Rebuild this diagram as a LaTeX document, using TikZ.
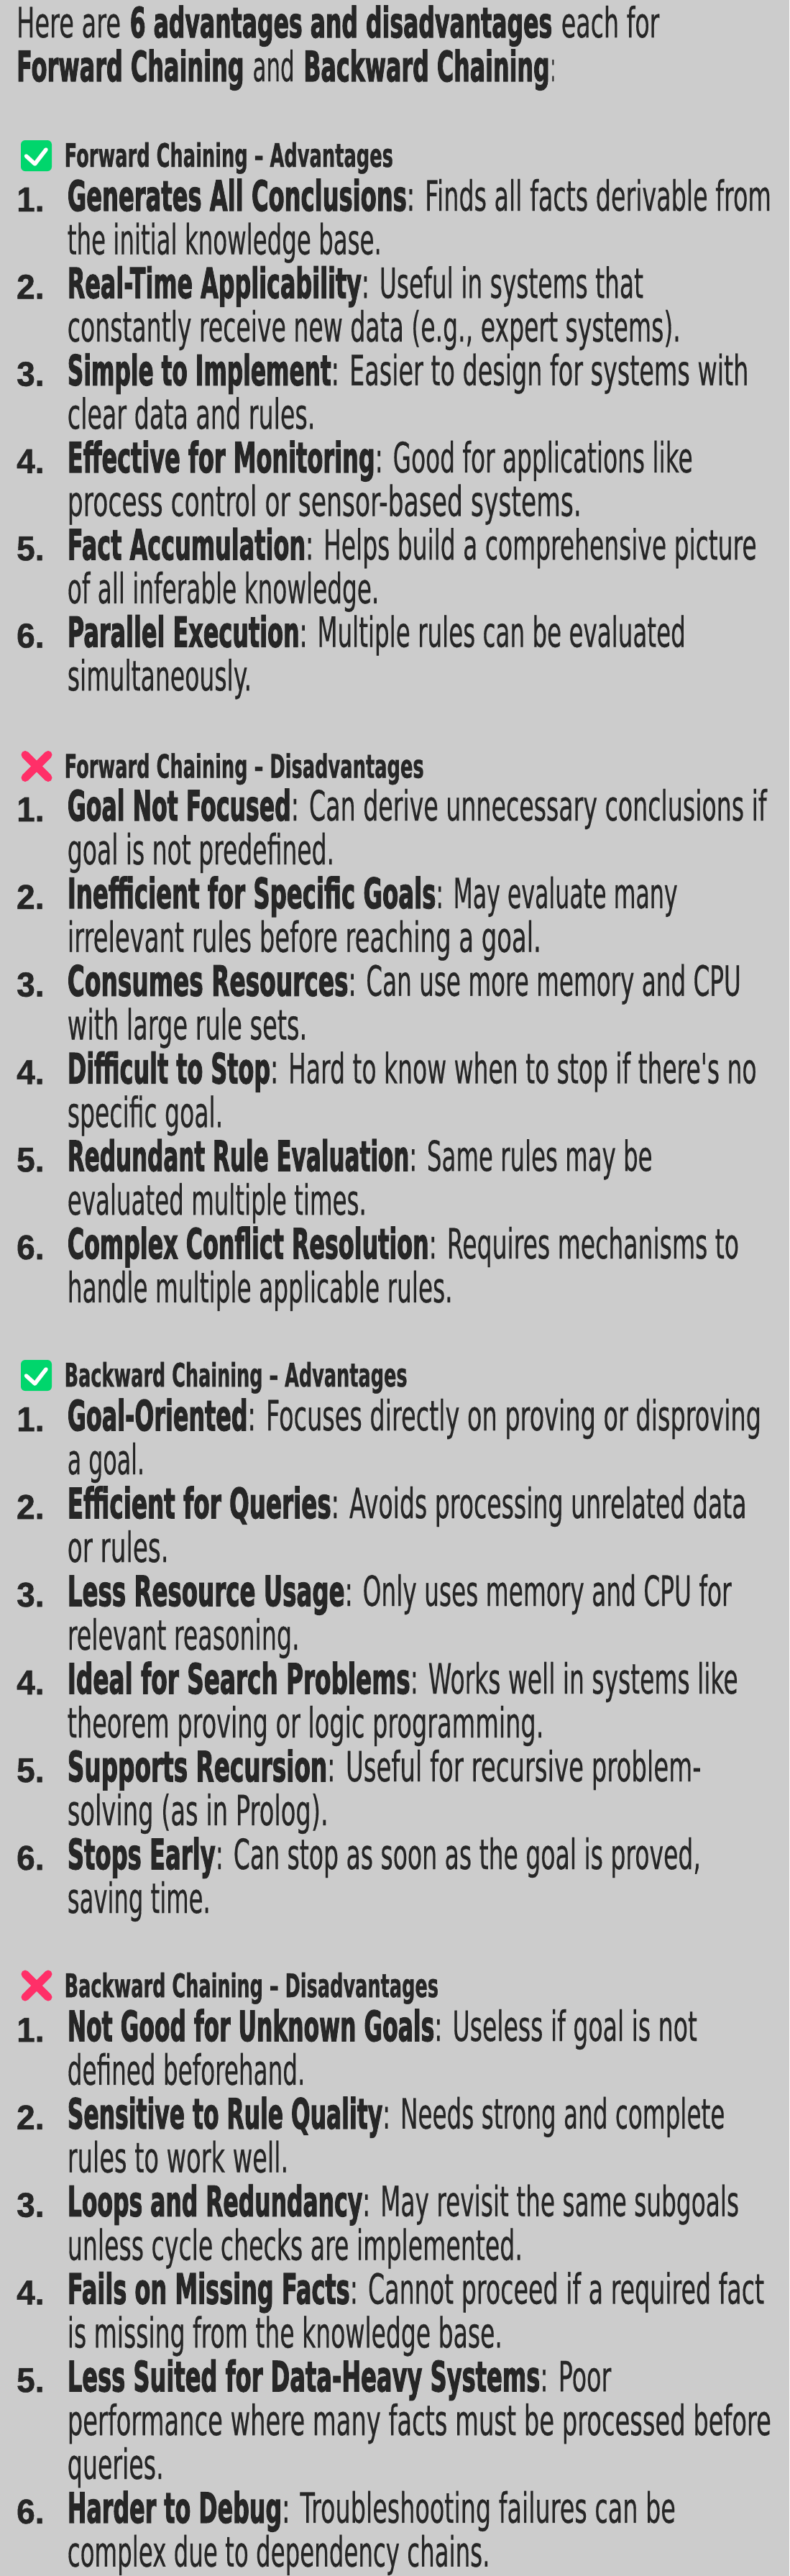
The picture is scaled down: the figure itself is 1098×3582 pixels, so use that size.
\documentclass[tikz,border=0pt]{standalone}
\usepackage{fontspec}
\usepackage{graphicx}
\newfontfamily\regf{DejaVu Sans}[FakeBold=0.5]
\newfontfamily\boldbase{DejaVu Sans}[UprightFont=* Bold,FakeBold=2.5]
\newfontfamily\headbase{DejaVu Sans}[UprightFont=* Bold,FakeBold=1]
\newfontfamily\numbase{Liberation Sans}[UprightFont=* Bold,FakeBold=1]
\newcommand{\txtreg}{\regf\fontsize{58}{60}\selectfont}
\newcommand{\txtbold}{\boldbase\fontsize{58}{60}\selectfont}
\newcommand{\txthead}{\headbase\fontsize{45}{46}\selectfont}
\newcommand{\txtnum}{\numbase\fontsize{48}{50}\selectfont}
\definecolor{pagebg}{HTML}{CCCCCC}
\definecolor{ink}{HTML}{262626}
\definecolor{okgreen}{HTML}{00D66C}
\definecolor{nored}{HTML}{FF2F68}
\tikzset{txt/.style={anchor=base west,inner sep=0pt,outer sep=0pt,text=ink},
  okbox/.style={fill=okgreen,rounded corners=6pt},
  oktick/.style={draw=white,line width=5.5pt,line cap=round,line join=round},
  nocross/.style={draw=nored,line width=11pt,line cap=round}}
\newsavebox\segbox
\newcounter{segn}
\newcount\rw
% x0 x1 are given in units of 1/1.428 px
\newcommand{\seg}[5]{%
  \stepcounter{segn}%
  \pgfmathsetmacro\segx{#1/1.428}%
  \node[txt] (t\thesegn) at (\segx,#3) {%
    \setbox\segbox=\hbox{#4#5}%
    \edef\segw{\the\wd\segbox}%
    \pgfmathsetmacro\segr{(#2-#1)/1.428/\segw}%
    \scalebox{\segr}[1]{\box\segbox}};%
}
\newcommand{\sect}[3]{\xdef\itemy{#1}\xdef\dy{#2}\xdef\hy{#3}\global\rw=0 }
\newcommand{\cury}{\pgfmathsetmacro\yy{\itemy+\the\rw*\dy}}
\newcommand{\itm}[6]{% n boldEnd lineEnd bold rest
  \cury
  \seg{33}{88}{\yy+1}{\txtnum}{#1.}%
  \seg{134}{#2}{\yy}{\txtbold}{#4}%
  \seg{#2}{#3}{\yy}{\txtreg}{#5}%
  \global\advance\rw by 1
  \cont{#6}%
}
\newcommand{\cont}[1]{\contB#1}
\def\contB#1|#2|{%
  \cury
  \seg{134}{#1}{\yy}{\txtreg}{#2}%
  \global\advance\rw by 1
}
\newcommand{\okicon}{%
  \fill[okbox] (29,\hy-37) rectangle (72,\hy+6);
  \draw[oktick] (36.5,\hy-15) -- (48.5,\hy-4) -- (64,\hy-24);
}
\newcommand{\noicon}{%
  \draw[nocross] (35,\hy-32) -- (67,\hy);
  \draw[nocross] (67,\hy-32) -- (35,\hy);
}
\newcommand{\hdr}[2]{\seg{128}{#1}{\hy}{\txthead}{#2}}
\begin{document}
\begin{tikzpicture}[x=1pt,y=-1pt]
\fill[pagebg] (0,0) rectangle (1098,3582);
\useasboundingbox (0,0) rectangle (1098,3582);

\seg{33}{240}{52}{\txtreg}{Here are}
\seg{258}{1097}{52}{\txtbold}{6 advantages and disadvantages}
\seg{1115}{1310}{52}{\txtreg}{each for}
\seg{33}{485}{113}{\txtbold}{Forward Chaining}
\seg{502}{585}{113}{\txtreg}{and}
\seg{603}{1092}{113}{\txtbold}{Backward Chaining}
\seg{1094}{1103}{113}{\txtreg}{:}

\sect{293}{60.65}{232}
\okicon
\hdr{781}{Forward Chaining – Advantages}
\itm{1}{808}{1532}{Generates All Conclusions}{: Finds all facts derivable from}{758|the initial knowledge base.|}
\itm{2}{718}{1278}{Real-Time Applicability}{: Useful in systems that}{1352|constantly receive new data (e.g., expert systems).|}
\itm{3}{658}{1487}{Simple to Implement}{: Easier to design for systems with}{626|clear data and rules.|}
\itm{4}{745}{1376}{Effective for Monitoring}{: Good for applications like}{1155|process control or sensor-based systems.|}
\itm{5}{607}{1503}{Fact Accumulation}{: Helps build a comprehensive picture}{753|of all inferable knowledge.|}
\itm{6}{595}{1362}{Parallel Execution}{: Multiple rules can be evaluated}{500|simultaneously.|}

\sect{1141}{60.9}{1081.5}
\noicon
\hdr{842}{Forward Chaining – Disadvantages}
\itm{1}{578}{1523}{Goal Not Focused}{: Can derive unnecessary conclusions if}{664|goal is not predefined.|}
\itm{2}{866}{1346}{Inefficient for Specific Goals}{: May evaluate many}{1075|irrelevant rules before reaching a goal.|}
\itm{3}{692}{1472}{Consumes Resources}{: Can use more memory and CPU}{610|with large rule sets.|}
\itm{4}{537}{1503}{Difficult to Stop}{: Hard to know when to stop if there's no}{443|specific goal.|}
\itm{5}{813}{1296}{Redundant Rule Evaluation}{: Same rules may be}{728|evaluated multiple times.|}
\itm{6}{852}{1468}{Complex Conflict Resolution}{: Requires mechanisms to}{899|handle multiple applicable rules.|}

\sect{1989}{61}{1928}
\okicon
\hdr{809}{Backward Chaining – Advantages}
\itm{1}{492}{1512}{Goal-Oriented}{: Focuses directly on proving or disproving}{287|a goal.|}
\itm{2}{658}{1483}{Efficient for Queries}{: Avoids processing unrelated data}{335|or rules.|}
\itm{3}{685}{1453}{Less Resource Usage}{: Only uses memory and CPU for}{595|relevant reasoning.|}
\itm{4}{815}{1466}{Ideal for Search Problems}{: Works well in systems like}{1080|theorem proving or logic programming.|}
\itm{5}{650}{1393}{Supports Recursion}{: Useful for recursive problem-}{652|solving (as in Prolog).|}
\itm{6}{428}{1392}{Stops Early}{: Can stop as soon as the goal is proved,}{418|saving time.|}

\sect{2838}{60.9}{2777}
\noicon
\hdr{871}{Backward Chaining – Disadvantages}
\itm{1}{863}{1385}{Not Good for Unknown Goals}{: Useless if goal is not}{606|defined beforehand.|}
\itm{2}{760}{1440}{Sensitive to Rule Quality}{: Needs strong and complete}{573|rules to work well.|}
\itm{3}{720}{1468}{Loops and Redundancy}{: May revisit the same subgoals}{1038|unless cycle checks are implemented.|}
\itm{4}{695}{1518}{Fails on Missing Facts}{: Cannot proceed if a required fact}{998|is missing from the knowledge base.|}
\itm{5}{1073}{1214}{Less Suited for Data-Heavy Systems}{: Poor}{1532|performance where many facts must be processed before|}
\cont{325|queries.|}
\itm{6}{560}{1342}{Harder to Debug}{: Troubleshooting failures can be}{973|complex due to dependency chains.|}
\end{tikzpicture}
\end{document}
